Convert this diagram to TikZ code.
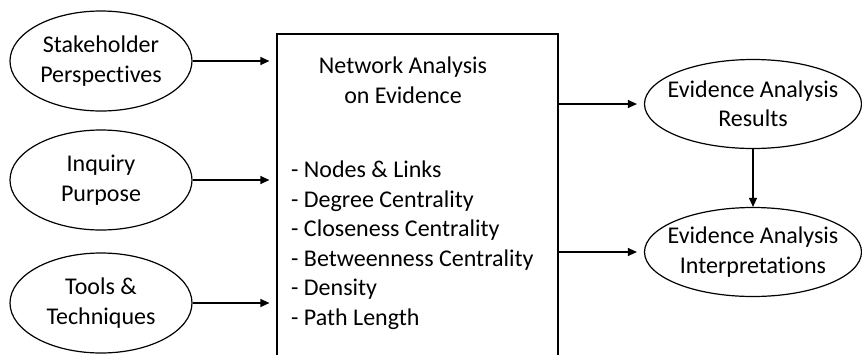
\documentclass[tikz,border=0pt]{standalone}
\usepackage{fontspec}
\setmainfont{Carlito}[Ligatures=NoCommon]
\usetikzlibrary{shapes.geometric,arrows.meta}

\begin{document}
\begin{tikzpicture}[x=1pt,y=-1pt,
  font=\fontsize{24}{29.5}\selectfont,
  source/.style={ellipse,draw=black,line width=1.2pt,minimum width=182pt,minimum height=100pt,inner xsep=-10pt,inner ysep=0pt,align=center},
  result/.style={source,minimum width=217pt,minimum height=89pt},
  flow/.style={line width=1.2pt,-{Triangle[length=9pt,width=8pt]}}
]

\clip (0,0) rectangle (862,354);

\node[draw=black,line width=1.2pt,minimum width=281pt,minimum height=346pt] (box) at (417.5,207) {};
\node[align=center,inner sep=0pt] (title) at (403,80) {Network Analysis\\on Evidence};
\node[align=left,inner sep=0pt,anchor=west] (list) at (291,245) {- Nodes \& Links\\- Degree Centrality\\- Closeness Centrality\\- Betweenness Centrality\\- Density\\- Path Length};

\node[source] (sp) at (101,61) {Stakeholder\\Perspectives};
\node[source] (ip) at (101,180) {Inquiry\\Purpose};
\node[source] (tt) at (101,303) {Tools \&\\Techniques};

\node[result] (res) at (753,104) {Evidence Analysis\\Results};
\node[result] (int) at (753,252) {Evidence Analysis\\Interpretations};

\foreach \s in {sp,ip,tt}
  \draw[flow,shorten >=7pt] (\s.east) -- (\s.east -| box.west);

\draw[flow,shorten >=7pt] (box.east |- res.west) -- (res.west);
\draw[flow,shorten >=7pt] (box.east |- int.west) -- (int.west);
\draw[flow] (res.south) -- (int.north);

\end{tikzpicture}
\end{document}
